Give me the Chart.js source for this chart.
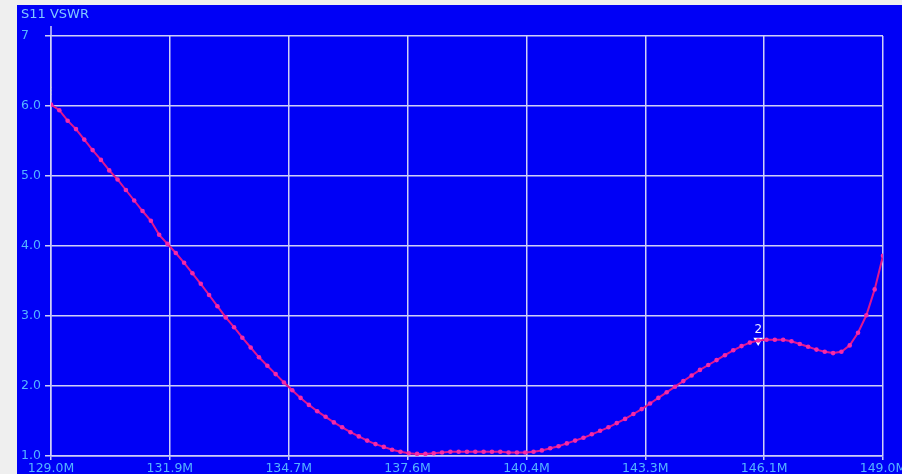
<!DOCTYPE html>
<html>
<head>
<meta charset="utf-8">
<title>S11 VSWR</title>
<script src="https://cdn.jsdelivr.net/npm/chart.js@4.4.1/dist/chart.umd.min.js"></script>
<style>
  html, body { margin: 0; padding: 0; background: #efefef; }
  canvas { display: block; }
</style>
</head>
<body>
<canvas id="chart" width="902" height="474"></canvas>
<script>
// Sweep frequencies (MHz)
const freqMHz = [
  129.0, 129.2, 129.4, 129.6, 129.8, 130.0, 130.2, 130.4, 130.6, 130.8,
  131.0, 131.2, 131.4, 131.6, 131.8, 132.0, 132.2, 132.4, 132.6, 132.8,
  133.0, 133.2, 133.4, 133.6, 133.8, 134.0, 134.2, 134.4, 134.6, 134.8,
  135.0, 135.2, 135.4, 135.6, 135.8, 136.0, 136.2, 136.4, 136.6, 136.8,
  137.0, 137.2, 137.4, 137.6, 137.8, 138.0, 138.2, 138.4, 138.6, 138.8,
  139.0, 139.2, 139.4, 139.6, 139.8, 140.0, 140.2, 140.4, 140.6, 140.8,
  141.0, 141.2, 141.4, 141.6, 141.8, 142.0, 142.2, 142.4, 142.6, 142.8,
  143.0, 143.2, 143.4, 143.6, 143.8, 144.0, 144.2, 144.4, 144.6, 144.8,
  145.0, 145.2, 145.4, 145.6, 145.8, 146.0, 146.2, 146.4, 146.6, 146.8,
  147.0, 147.2, 147.4, 147.6, 147.8, 148.0, 148.2, 148.4, 148.6, 148.8,
  149.0
];

// Measured S11 VSWR at each sweep point
const vswr = [
  6.02, 5.94, 5.79, 5.67, 5.52, 5.37, 5.23, 5.08, 4.95, 4.80,
  4.65, 4.50, 4.36, 4.16, 4.03, 3.90, 3.76, 3.61, 3.46, 3.30,
  3.14, 2.98, 2.84, 2.69, 2.55, 2.41, 2.29, 2.17, 2.05, 1.94,
  1.83, 1.73, 1.64, 1.56, 1.48, 1.41, 1.34, 1.28, 1.22, 1.17,
  1.13, 1.09, 1.06, 1.04, 1.03, 1.03, 1.04, 1.05, 1.06, 1.06,
  1.06, 1.06, 1.06, 1.06, 1.06, 1.05, 1.05, 1.05, 1.06, 1.08,
  1.11, 1.14, 1.18, 1.22, 1.26, 1.31, 1.36, 1.41, 1.47, 1.53,
  1.60, 1.67, 1.75, 1.83, 1.91, 1.99, 2.07, 2.15, 2.23, 2.30,
  2.37, 2.44, 2.51, 2.57, 2.62, 2.65, 2.66, 2.66, 2.66, 2.64,
  2.60, 2.56, 2.52, 2.49, 2.47, 2.49, 2.58, 2.76, 3.01, 3.38,
  3.86
];

// Axis ticks
const xTickValues = [129.0, 131.857, 134.714, 137.571, 140.429, 143.286, 146.143, 149.0];
const xTickLabels = ['129.0M', '131.9M', '134.7M', '137.6M', '140.4M', '143.3M', '146.1M', '149.0M'];
const yTickValues = [1, 2, 3, 4, 5, 6, 7];
const yTickLabels = ['1.0', '2.0', '3.0', '4.0', '5.0', '6.0', '7'];

// Markers: sweep point index and label
const markerIndex = [0, 85];
const markerLabels = ['1', '2'];

const GRID = '#cfcff6';
const LABEL = '#55b4ff';
const TRACE = '#e0168e';
const DOT = '#f52aa8';

const points = freqMHz.map((f, i) => ({ x: f, y: vswr[i] }));
const markerPoints = markerIndex.map(i => ({ x: freqMHz[i], y: vswr[i] }));

const panelPlugin = {
  id: 'panel',
  beforeDraw(chart) {
    const c = chart.ctx;
    c.save();
    c.fillStyle = '#efefef';
    c.fillRect(0, 0, chart.width, chart.height);
    c.fillStyle = '#0000f6';
    c.fillRect(17, 5, chart.width - 17, chart.height - 5);
    c.restore();
  },
  afterDraw(chart) {
    const c = chart.ctx;
    const a = chart.chartArea;
    // y axis runs a little above the top grid line
    c.save();
    c.strokeStyle = GRID;
    c.lineWidth = 1.5;
    c.beginPath();
    c.moveTo(a.left, a.top - 10);
    c.lineTo(a.left, a.top);
    c.stroke();
    // marker labels
    const meta = chart.getDatasetMeta(1);
    meta.data.forEach((el, k) => {
      c.textAlign = 'center';
      c.textBaseline = 'bottom';
      if (k === 0) {
        c.fillStyle = '#d0d0e0';
        c.font = '10px "DejaVu Sans"';
        c.fillText('\u22EE', el.x, el.y - 8);
      } else {
        c.fillStyle = '#eeeeff';
        c.font = '12px "DejaVu Sans"';
        c.fillText(markerLabels[k], el.x, el.y - 5);
      }
    });
    c.restore();
  }
};

new Chart(document.getElementById('chart'), {
  type: 'scatter',
  data: {
    datasets: [
      {
        label: 'S11 VSWR',
        data: points,
        showLine: true,
        borderColor: TRACE,
        borderWidth: 2,
        pointRadius: 2.3,
        pointBorderWidth: 0,
        pointBackgroundColor: DOT,
        tension: 0
      },
      {
        label: 'Markers',
        data: markerPoints,
        showLine: false,
        pointStyle: 'triangle',
        rotation: 180,
        pointRadius: [0, 5.5],
        pointBorderWidth: 0,
        pointBackgroundColor: '#ffffff'
      }
    ]
  },
  options: {
    responsive: false,
    animation: false,
    events: [],
    layout: { padding: { left: 21, right: 19, top: 7, bottom: 0 } },
    plugins: {
      legend: { display: false },
      tooltip: { enabled: false },
      title: {
        display: true,
        text: 'S11 VSWR',
        align: 'start',
        color: '#80c6ff',
        font: { family: 'DejaVu Sans', size: 13, weight: 'normal', lineHeight: 1.2 },
        padding: { top: 0, bottom: 13.4 }
      }
    },
    scales: {
      x: {
        type: 'linear',
        min: 129,
        max: 149,
        afterBuildTicks(scale) { scale.ticks = xTickValues.map(v => ({ value: v })); },
        afterFit(scale) { scale.height = 18; scale.paddingLeft = 0; scale.paddingRight = 0; },
        ticks: {
          autoSkip: false,
          maxRotation: 0,
          padding: 1,
          color: LABEL,
          font: { family: 'DejaVu Sans', size: 12.5 },
          callback(v, i) { return xTickLabels[i]; }
        },
        grid: { color: GRID, lineWidth: 1.5, tickLength: 4, drawTicks: true },
        border: { color: GRID, width: 1.5 }
      },
      y: {
        type: 'linear',
        min: 1,
        max: 7,
        afterBuildTicks(scale) { scale.ticks = yTickValues.map(v => ({ value: v })); },
        afterFit(scale) { scale.width = 30; scale.paddingTop = 0; scale.paddingBottom = 0; },
        ticks: {
          autoSkip: false,
          crossAlign: 'far',
          padding: 4,
          color: LABEL,
          font: { family: 'DejaVu Sans', size: 12.5 },
          callback(v, i) { return yTickLabels[i]; }
        },
        grid: { color: GRID, lineWidth: 1.5, tickLength: 6, drawTicks: true },
        border: { color: GRID, width: 1.5 }
      }
    }
  },
  plugins: [panelPlugin]
});
</script>
</body>
</html>
